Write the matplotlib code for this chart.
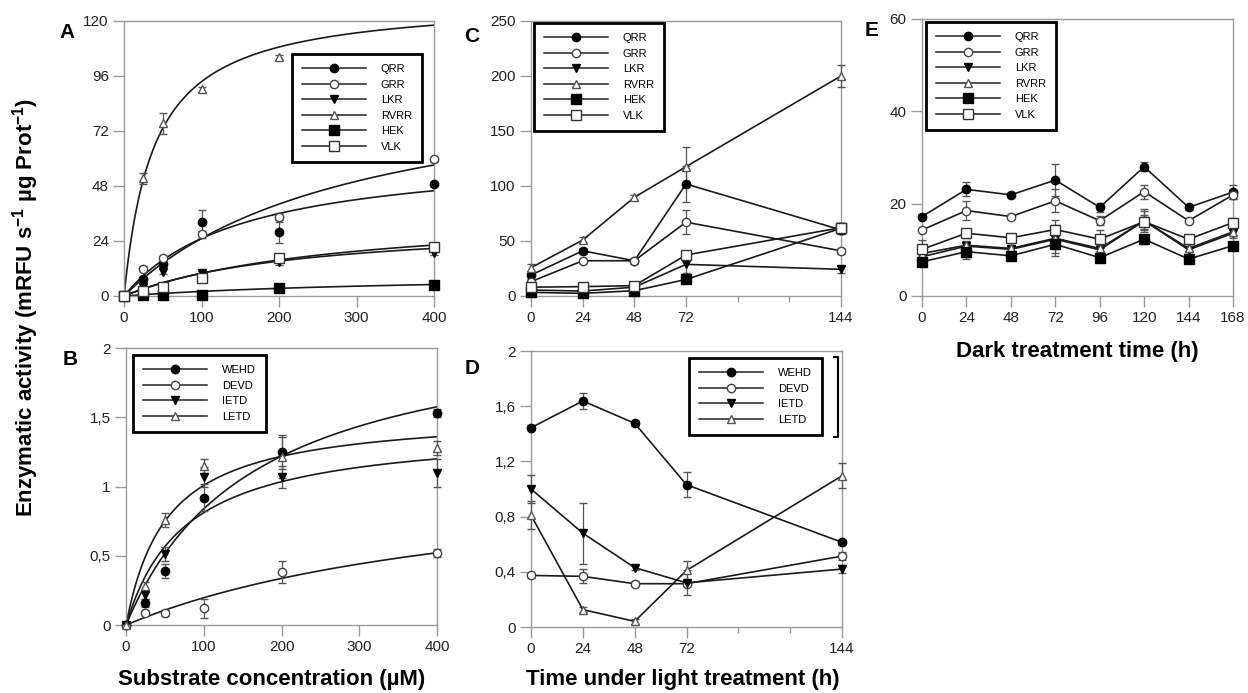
import numpy as np
import matplotlib
matplotlib.use('Agg')
import matplotlib.pyplot as plt
from matplotlib.lines import Line2D

plt.rcParams['font.family'] = ['Liberation Sans', 'DejaVu Sans']
plt.rcParams['mathtext.fontset'] = 'custom'
plt.rcParams['mathtext.rm'] = 'Liberation Sans:bold'
plt.rcParams['mathtext.bf'] = 'Liberation Sans:bold'
plt.rcParams['mathtext.default'] = 'bf'

# panel A: substrate curves, group 1
conc = [0, 25, 50, 100, 200, 400]
names_1 = ['QRR', 'GRR', 'LKR', 'RVRR', 'HEK', 'VLK']
a_vals = {
    'QRR': [0, 7.3, 13.8, 32.1, 27.7, 48.8],
    'GRR': [0, 11.9, 16.4, 26.9, 34.6, 59.6],
    'LKR': [0, 4.0, 10.6, 9.9, 15.0, 18.7],
    'RVRR': [0, 51.3, 75.3, 90.0, 104.0, None],
    'HEK': [0, 0.6, 0.6, 0.6, 3.3, 4.8],
    'VLK': [0, 2.3, 4.1, 8.0, 16.4, 21.5],
}
a_err = {
    'QRR': [0, 1.0, 1.0, 5.5, 4.5, 1.0],
    'GRR': [0, 1.0, 1.0, 1.5, 1.5, 1.0],
    'LKR': [0, 0.5, 1.0, 1.0, 1.5, 1.0],
    'RVRR': [0, 2.5, 4.5, 1.0, 1.0, 0],
    'HEK': [0, 0.3, 0.3, 0.3, 0.5, 0.5],
    'VLK': [0, 0.5, 0.8, 1.5, 1.5, 1.0],
}
# Michaelis-Menten fit parameters (Vmax, Km)
a_vmax = {'QRR': 63.4, 'GRR': 99.3, 'LKR': 32.8, 'RVRR': 129.4, 'HEK': 10.0, 'VLK': 37.9}
a_km = {'QRR': 152.7, 'GRR': 295.7, 'LKR': 231.6, 'RVRR': 38.5, 'HEK': 400.0, 'VLK': 282.6}

# panel B: substrate curves, group 2
names_2 = ['WEHD', 'DEVD', 'IETD', 'LETD']
b_vals = {
    'WEHD': [0, 0.16, 0.39, 0.92, 1.25, 1.53],
    'DEVD': [0, 0.09, 0.085, 0.12, 0.385, 0.52],
    'IETD': [0, 0.22, 0.51, 1.07, 1.07, 1.10],
    'LETD': [0, 0.28, 0.76, 1.15, 1.21, 1.28],
}
b_err = {
    'WEHD': [0, 0.03, 0.05, 0.1, 0.12, 0.03],
    'DEVD': [0, 0.02, 0.02, 0.07, 0.08, 0.03],
    'IETD': [0, 0.03, 0.05, 0.07, 0.08, 0.1],
    'LETD': [0, 0.03, 0.05, 0.05, 0.15, 0.05],
}
b_vmax = {'WEHD': 2.228, 'DEVD': 1.157, 'IETD': 1.427, 'LETD': 1.538}
b_km = {'WEHD': 165.5, 'DEVD': 487.0, 'IETD': 75.8, 'LETD': 52.5}

# panel C: light treatment, group 1
light_t = [0, 24, 48, 72, 144]
c_vals = {
    'QRR': [19, 41, 32, 101.7, 60],
    'GRR': [13, 32, 32, 67, 41],
    'LKR': [5.4, 4.5, 8, 28.7, 24.2],
    'RVRR': [25.7, 50.8, 89.6, 117.4, 199.8],
    'HEK': [3.3, 2.4, 4.8, 15, 61.5],
    'VLK': [8, 8.5, 9.4, 37.2, 62],
}
c_err = {
    'QRR': [2, 3, 2, 16, 4],
    'GRR': [2, 2, 2, 11, 3],
    'LKR': [1, 1, 1, 8, 3],
    'RVRR': [3, 3, 2, 18, 10],
    'HEK': [1, 1, 1, 3, 5],
    'VLK': [1, 1, 1, 4, 4],
}

# panel D: light treatment, group 2
d_vals = {
    'WEHD': [1.444, 1.638, 1.476, 1.031, 0.614],
    'DEVD': [0.374, 0.367, 0.314, 0.314, 0.514],
    'IETD': [1.0, 0.68, 0.43, 0.32, 0.42],
    'LETD': [0.81, 0.126, 0.041, 0.41, 1.096],
}
d_err = {
    'WEHD': [0.02, 0.06, 0.02, 0.09, 0.02],
    'DEVD': [0.02, 0.05, 0.02, 0.02, 0.03],
    'IETD': [0.1, 0.22, 0.02, 0.09, 0.03],
    'LETD': [0.1, 0.02, 0.02, 0.07, 0.09],
}

# panel E: dark treatment, group 1
dark_t = [0, 24, 48, 72, 96, 120, 144, 168]
e_vals = {
    'QRR': [17.2, 23.1, 21.9, 25.1, 19.2, 28.0, 19.2, 22.5],
    'GRR': [14.3, 18.5, 17.2, 20.6, 16.3, 22.6, 16.3, 21.9],
    'LKR': [8.5, 10.8, 10.1, 12.3, 10.0, 16.3, 10.0, 13.6],
    'RVRR': [9.2, 11.0, 10.3, 12.5, 10.3, 16.3, 10.3, 13.9],
    'HEK': [7.4, 9.6, 8.7, 11.2, 8.3, 12.3, 8.0, 10.9],
    'VLK': [10.1, 13.6, 12.6, 14.4, 12.3, 16.1, 12.3, 15.9],
}
e_err = {
    'QRR': [0.5, 1.5, 0.5, 3.5, 1.0, 1.0, 0.5, 1.5],
    'GRR': [0.5, 2.0, 0.5, 2.5, 1.0, 1.5, 0.5, 1.0],
    'LKR': [0.5, 1.0, 0.5, 3.0, 1.0, 2.0, 0.5, 1.0],
    'RVRR': [0.5, 1.0, 0.5, 2.0, 1.0, 2.5, 0.5, 1.0],
    'HEK': [0.5, 1.5, 0.5, 2.5, 1.0, 1.0, 0.5, 0.5],
    'VLK': [2.0, 1.0, 0.5, 2.0, 2.0, 1.5, 0.5, 1.0],
}

styles = {
    'QRR': ('o', 'black', 'black'),
    'GRR': ('o', 'white', '#444444'),
    'LKR': ('v', 'black', 'black'),
    'RVRR': ('^', 'white', '#555555'),
    'HEK': ('s', 'black', 'black'),
    'VLK': ('s', 'white', '#333333'),
    'WEHD': ('o', 'black', 'black'),
    'DEVD': ('o', 'white', '#444444'),
    'IETD': ('v', 'black', 'black'),
    'LETD': ('^', 'white', '#555555'),
}
marker_size = {'o': 6, 'v': 6, '^': 6, 's': 6.5}

fig = plt.figure(figsize=(12.48, 6.93), dpi=100)
ax_a = fig.add_axes([0.0994, 0.5729, 0.2484, 0.3973])
ax_b = fig.add_axes([0.1010, 0.0981, 0.2492, 0.3997])
ax_c = fig.add_axes([0.4255, 0.5729, 0.2484, 0.3973])
ax_d = fig.add_axes([0.4255, 0.0952, 0.2492, 0.3983])
ax_e = fig.add_axes([0.7388, 0.5729, 0.2492, 0.3997])


def style_axes(ax):
    for sp in ax.spines.values():
        sp.set_color('#9a9a9a')
        sp.set_linewidth(1.0)
    ax.tick_params(which='major', direction='out', length=8, width=1.0,
                   color='#9a9a9a', labelsize=11, labelcolor='#222222', pad=3)
    ax.tick_params(which='minor', direction='out', length=4, width=1.0, color='#9a9a9a')


def legend_box(ax, names, anchor):
    handles = []
    for nm in names:
        m, fc, ec = styles[nm]
        handles.append(Line2D([], [], color='#222222', lw=1.1, marker=m, markersize=marker_size[m],
                              markerfacecolor=fc, markeredgecolor=ec))
    leg = ax.legend(handles, names, loc='upper left', bbox_to_anchor=anchor,
                    bbox_transform=fig.transFigure, fontsize=8, handlelength=5.8,
                    handletextpad=1.3, labelspacing=0.5, borderpad=0.9,
                    fancybox=False, framealpha=1, borderaxespad=0)
    leg.get_frame().set_edgecolor('black')
    leg.get_frame().set_linewidth(2.0)
    return leg


def plot_fit(ax, names, x, vals, err, vmax, km, xmax):
    xs = np.linspace(0, xmax, 300)
    for nm in names:
        m, fc, ec = styles[nm]
        ax.plot(xs, vmax[nm] * xs / (km[nm] + xs), color='#1a1a1a', lw=1.2, zorder=2)
        xx = [xi for xi, v in zip(x, vals[nm]) if v is not None]
        yy = [v for v in vals[nm] if v is not None]
        ee = [e for e, v in zip(err[nm], vals[nm]) if v is not None]
        ax.errorbar(xx, yy, yerr=ee, fmt='none', ecolor='#555555', elinewidth=0.9,
                    capsize=3, zorder=3, clip_on=False)
        ax.plot(xx, yy, linestyle='none', marker=m, markersize=marker_size[m],
                markerfacecolor=fc, markeredgecolor=ec, zorder=4, clip_on=False)


def plot_lines(ax, names, x, vals, err):
    for nm in names:
        m, fc, ec = styles[nm]
        ax.errorbar(x, vals[nm], yerr=err[nm], fmt='none', ecolor='#555555', elinewidth=0.9,
                    capsize=3, zorder=3, clip_on=False)
        ax.plot(x, vals[nm], color='#1a1a1a', lw=1.2, marker=m, markersize=marker_size[m],
                markerfacecolor=fc, markeredgecolor=ec, zorder=4, clip_on=False)


# A
plot_fit(ax_a, names_1, conc, a_vals, a_err, a_vmax, a_km, 400)
ax_a.set_xlim(0, 400)
ax_a.set_ylim(0, 120)
ax_a.set_xticks([0, 100, 200, 300, 400])
ax_a.set_yticks([0, 24, 48, 72, 96, 120])
style_axes(ax_a)
legend_box(ax_a, names_1, (292 / 1248, 1 - 54 / 693))

# B
plot_fit(ax_b, names_2, conc, b_vals, b_err, b_vmax, b_km, 400)
ax_b.set_xlim(0, 400)
ax_b.set_ylim(0, 2)
ax_b.set_xticks([0, 100, 200, 300, 400])
ax_b.set_yticks([0, 0.5, 1, 1.5, 2])
ax_b.set_yticklabels(['0', '0,5', '1', '1,5', '2'])
style_axes(ax_b)
legend_box(ax_b, names_2, (133 / 1248, 1 - 355 / 693))

# C
plot_lines(ax_c, names_1, light_t, c_vals, c_err)
ax_c.set_xlim(0, 144)
ax_c.set_ylim(0, 250)
ax_c.set_xticks(light_t)
ax_c.set_xticks([96, 120], minor=True)
ax_c.set_yticks([0, 50, 100, 150, 200, 250])
style_axes(ax_c)
legend_box(ax_c, names_1, (534 / 1248, 1 - 23 / 693))

# D
plot_lines(ax_d, names_2, light_t, d_vals, d_err)
ax_d.set_xlim(0, 144)
ax_d.set_ylim(0, 2)
ax_d.set_xticks(light_t)
ax_d.set_xticks([96, 120], minor=True)
ax_d.set_yticks([0, 0.4, 0.8, 1.2, 1.6, 2])
ax_d.set_yticklabels(['0', '0,4', '0,8', '1,2', '1,6', '2'])
style_axes(ax_d)
legend_box(ax_d, names_2, (689 / 1248, 1 - 358 / 693))
# stray bracket right of legend D
fig.lines.append(Line2D([834 / 1248, 838 / 1248, 838 / 1248, 834 / 1248],
                        [1 - 357 / 693, 1 - 357 / 693, 1 - 437 / 693, 1 - 437 / 693],
                        transform=fig.transFigure, color='black', lw=1.5))

# E
plot_lines(ax_e, names_1, dark_t, e_vals, e_err)
ax_e.set_xlim(0, 168)
ax_e.set_ylim(0, 60)
ax_e.set_xticks(dark_t)
ax_e.set_yticks([0, 20, 40, 60])
style_axes(ax_e)
legend_box(ax_e, names_1, (926 / 1248, 1 - 22 / 693))

# panel letters and axis titles
for letter, (px, py) in zip(['A', 'B', 'C', 'D', 'E'],
                            [(67, 33), (70, 360), (472, 37), (472, 368), (872, 30)]):
    fig.text(px / 1248, 1 - py / 693, letter, fontsize=15, fontweight='bold',
             ha='center', va='center')

fig.text(26 / 1248, 1 - 307 / 693, r'Enzymatic activity (mRFU s$^{-1}$ µg Prot$^{-1}$)',
         rotation=90, fontsize=16, fontweight='bold', ha='center', va='center')
fig.text(272 / 1248, 1 - 680 / 693, 'Substrate concentration (µM)', fontsize=16,
         fontweight='bold', ha='center', va='center')
fig.text(683 / 1248, 1 - 680 / 693, 'Time under light treatment (h)', fontsize=16,
         fontweight='bold', ha='center', va='center')
fig.text(1077 / 1248, 1 - 352 / 693, 'Dark treatment time (h)', fontsize=16,
         fontweight='bold', ha='center', va='center')

fig.savefig('out.png', dpi=100)
